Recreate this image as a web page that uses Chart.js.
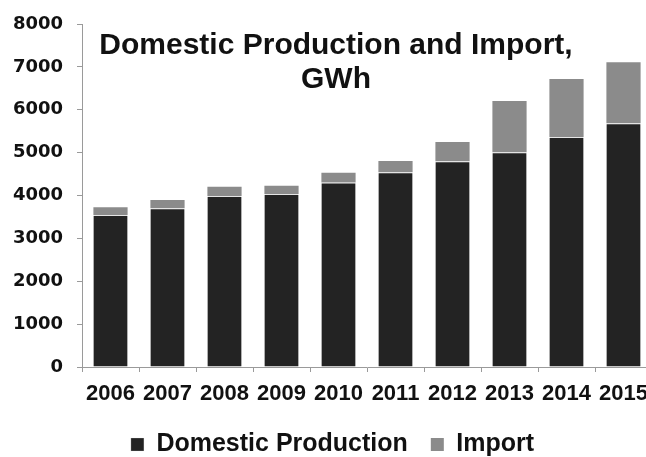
<!DOCTYPE html>
<html>
<head>
<meta charset="utf-8">
<script src="https://cdn.jsdelivr.net/npm/chart.js@4.4.0/dist/chart.umd.min.js"></script>
<style>
  html, body { margin: 0; padding: 0; background: #fff; overflow: hidden; }
  #wrap { width: 652px; height: 467px; }
</style>
</head>
<body>
<div id="wrap"><canvas id="energy"></canvas></div>
<script>
const years = ['2006', '2007', '2008', '2009', '2010', '2011', '2012', '2013', '2014', '2015'];
const domestic = [3545, 3700, 3990, 4035, 4305, 4540, 4800, 5010, 5365, 5685];
const imports = [180, 195, 215, 195, 225, 265, 445, 1195, 1350, 1420];
const chartTitle = ['Domestic Production and Import,', 'GWh'];

const sans = '"Liberation Sans", Arial, sans-serif';
const axisGray = '#9a9a9a';

// title sits inside the plot area, so draw it ourselves
const insideTitle = {
  id: 'insideTitle',
  afterDraw(chart) {
    const { ctx, chartArea } = chart;
    ctx.save();
    ctx.font = 'bold 30px ' + sans;
    ctx.fillStyle = '#111';
    ctx.textAlign = 'center';
    ctx.textBaseline = 'alphabetic';
    const x = chartArea.left + 254;
    chartTitle.forEach((line, i) => {
      ctx.fillText(line, x, chartArea.top + 30 + i * 34);
    });
    ctx.restore();
  }
};

new Chart(document.getElementById('energy'), {
  type: 'bar',
  plugins: [insideTitle],
  data: {
    labels: years,
    datasets: [
      {
        label: 'Domestic Production',
        data: domestic,
        backgroundColor: '#232323',
        borderColor: '#e4e4e4',
        borderWidth: { top: 1, right: 0, bottom: 0, left: 0 },
        barPercentage: 0.6,
        categoryPercentage: 1
      },
      {
        label: 'Import',
        data: imports,
        backgroundColor: '#8b8b8b',
        borderWidth: 0,
        barPercentage: 0.6,
        categoryPercentage: 1
      }
    ]
  },
  options: {
    responsive: true,
    maintainAspectRatio: false,
    animation: false,
    layout: { padding: { top: 24, left: 13, right: 0, bottom: 0 } },
    plugins: {
      tooltip: { enabled: false },
      title: { display: false },
      legend: {
        position: 'bottom',
        labels: {
          boxWidth: 13,
          boxHeight: 13,
          padding: 23,
          color: '#111',
          font: { family: sans, size: 25, weight: 'bold' }
        }
      }
    },
    scales: {
      x: {
        stacked: true,
        grid: { offset: true, drawOnChartArea: false, drawTicks: true, tickLength: 5, color: axisGray },
        border: { color: axisGray },
        ticks: {
          color: '#111',
          padding: 9,
          maxRotation: 0,
          autoSkip: false,
          font: { family: sans, size: 22, weight: 'bold' }
        },
        afterFit(scale) {
          scale.height = 42;
          scale.paddingLeft = 0;
          scale.paddingRight = 0;
        }
      },
      y: {
        stacked: true,
        min: 0,
        max: 8000,
        grid: { drawOnChartArea: false, drawTicks: true, tickLength: 5, color: axisGray },
        border: { color: axisGray },
        ticks: {
          stepSize: 1000,
          color: '#111',
          padding: 14,
          font: { family: '"DejaVu Sans", sans-serif', size: 18, weight: 'bold' },
          callback: value => String(value)
        },
        afterFit(scale) {
          scale.width = 69;
          scale.paddingTop = 0;
          scale.paddingBottom = 0;
        }
      }
    }
  }
});
</script>
</body>
</html>
